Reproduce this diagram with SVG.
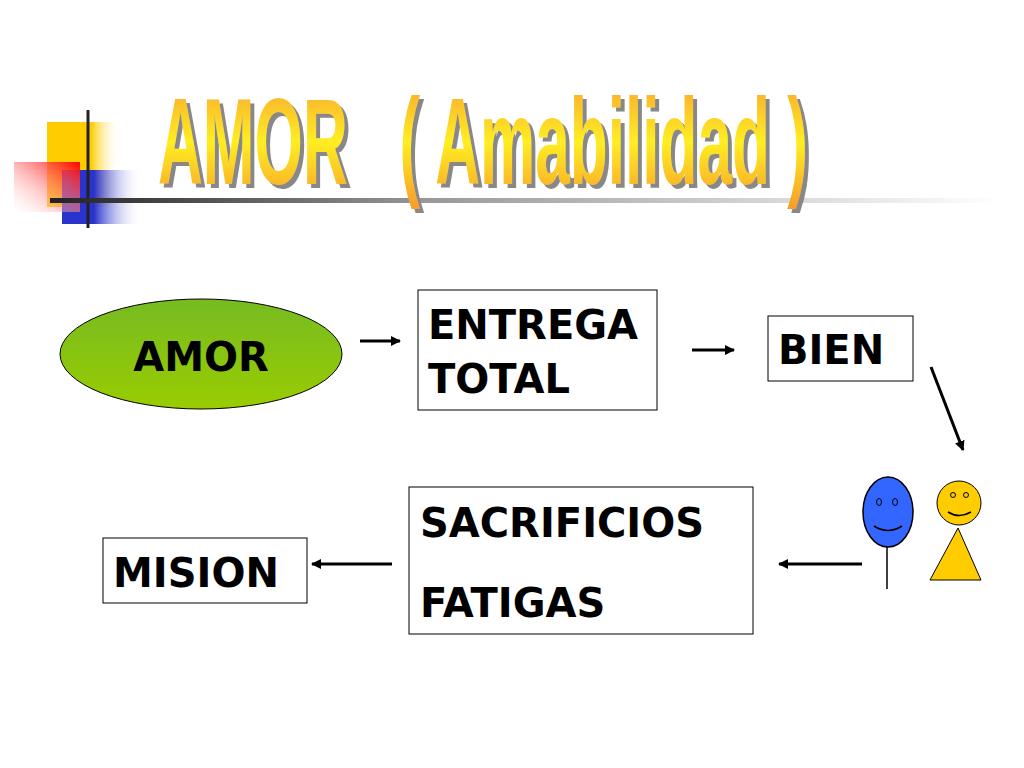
<svg xmlns="http://www.w3.org/2000/svg" width="1024" height="768" viewBox="0 0 1024 768">
<defs>
<linearGradient id="tg" x1="0" y1="0" x2="0" y2="1"><stop offset="0" stop-color="#f7a030"/><stop offset="0.5" stop-color="#ffee22"/><stop offset="1" stop-color="#f79a2c"/></linearGradient>
<linearGradient id="ln" x1="0" y1="0" x2="1" y2="0"><stop offset="0" stop-color="#222"/><stop offset="0.4" stop-color="#999"/><stop offset="1" stop-color="#fff"/></linearGradient>
<linearGradient id="yl" x1="0" y1="0" x2="1" y2="0"><stop offset="0.6" stop-color="#ffcc00"/><stop offset="1" stop-color="#fff" stop-opacity="0"/></linearGradient>
<linearGradient id="bl" x1="0" y1="0" x2="1" y2="0"><stop offset="0.4" stop-color="#2a33cc"/><stop offset="1" stop-color="#fff" stop-opacity="0"/></linearGradient>
<linearGradient id="rd" x1="1" y1="0" x2="0" y2="1"><stop offset="0" stop-color="#ff0000"/><stop offset="1" stop-color="#fff" stop-opacity="0.2"/></linearGradient>
<linearGradient id="gr" x1="0" y1="0" x2="0" y2="1"><stop offset="0" stop-color="#77bb22"/><stop offset="1" stop-color="#99cc00"/></linearGradient>
<filter id="sh" filterUnits="userSpaceOnUse" x="100" y="40" width="800" height="200"><feOffset in="SourceAlpha" dx="4" dy="4" result="o"/><feFlood flood-color="#888"/><feComposite in2="o" operator="in"/><feMerge><feMergeNode/><feMergeNode in="SourceGraphic"/></feMerge></filter>
<marker id="ah" markerWidth="10" markerHeight="10" refX="9" refY="5" orient="auto" markerUnits="userSpaceOnUse"><path d="M0,0 L10,5 L0,10 z" fill="#000"/></marker>
</defs>
<style>
.b{fill:#fff;stroke:#000;stroke-width:1}
.t{font-family:"DejaVu Sans",Verdana,sans-serif;font-weight:bold;font-size:40px;fill:#000}
.c{stroke:#000;stroke-width:3;fill:none;marker-end:url(#ah)}
</style>
<rect width="1024" height="768" fill="#fff"/>
<g id="decor">
<rect x="47" y="122" width="73" height="85" fill="url(#yl)"/>
<rect x="62" y="170" width="80" height="54" fill="url(#bl)"/>
<rect x="14" y="162" width="66" height="50" fill="url(#rd)"/>
<line x1="88" y1="110" x2="88" y2="228" stroke="#222" stroke-width="3"/>
<rect x="50" y="198" width="950" height="5" fill="url(#ln)"/>
</g>
<g id="title">
<text x="158" y="184" xml:space="preserve" textLength="650" lengthAdjust="spacingAndGlyphs" font-family="'Liberation Sans',Arial,sans-serif" font-weight="bold" font-size="122" fill="url(#tg)" filter="url(#sh)">AMOR   ( Amabilidad )</text>
</g>
<g id="amor"><ellipse cx="201" cy="354" rx="141" ry="55" fill="url(#gr)" stroke="#000"/><text class="t" x="201" y="371" text-anchor="middle">AMOR</text></g>
<g id="entrega"><rect class="b" x="418" y="290" width="239" height="120"/><text class="t" x="428" y="339">ENTREGA</text><text class="t" x="428" y="393">TOTAL</text></g>
<g id="bien"><rect class="b" x="768" y="316" width="145" height="65"/><text class="t" x="778" y="364">BIEN</text></g>
<g id="sacrificios"><rect class="b" x="409" y="487" width="344" height="147"/><text class="t" x="420" y="537">SACRIFICIOS</text><text class="t" x="420" y="617">FATIGAS</text></g>
<g id="mision"><rect class="b" x="103" y="538" width="204" height="65"/><text class="t" x="113" y="587">MISION</text></g>
<g id="people">
<line x1="887" y1="540" x2="887" y2="589" stroke="#000" stroke-width="1.5"/>
<ellipse cx="888" cy="512" rx="25" ry="35" fill="#3366ff" stroke="#000" stroke-width="1.5"/>
<ellipse cx="879" cy="502" rx="2.5" ry="3.5" fill="none" stroke="#000"/><ellipse cx="895" cy="502" rx="2.5" ry="3.5" fill="none" stroke="#000"/>
<path d="M874,526 Q888,535 902,526" fill="none" stroke="#000" stroke-width="1.5"/>
<polygon points="958,528 981,580 930,580" fill="#ffcc00" stroke="#000" stroke-width="1"/>
<circle cx="959" cy="503" r="22" fill="#ffcc00" stroke="#000" stroke-width="1"/>
<circle cx="953" cy="495" r="2.5" fill="none" stroke="#000"/><circle cx="966" cy="495" r="2.5" fill="none" stroke="#000"/>
<path d="M948,512 Q959,519 971,512" fill="none" stroke="#000" stroke-width="1.5"/>
</g>
<g id="connectors">
<line class="c" x1="360" y1="341" x2="400" y2="341"/>
<line class="c" x1="692" y1="350" x2="734" y2="350"/>
<line class="c" x1="931" y1="367" x2="963" y2="450"/>
<line class="c" x1="862" y1="564" x2="779" y2="564"/>
<line class="c" x1="392" y1="564" x2="312" y2="564"/>
</g>
</svg>
